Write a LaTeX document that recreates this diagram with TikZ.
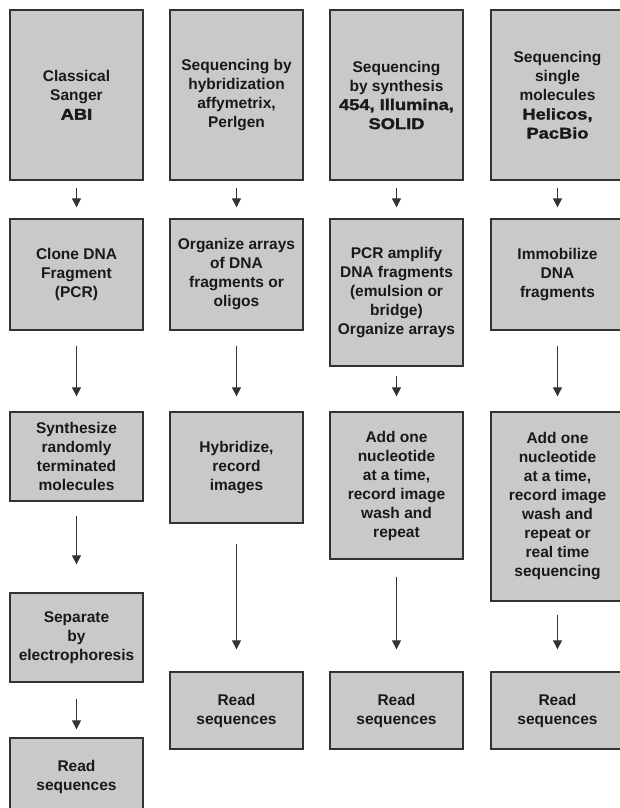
\documentclass[tikz,border=0pt]{standalone}
\usepackage{fontspec}
\setmainfont{Liberation Sans}
\newfontfamily\heavyfont{Liberation Sans Bold}[FakeBold=1.8,FakeStretch=1.18]
\usepackage{xcolor}
\usepackage{tikz}
\usetikzlibrary{arrows.meta}

\definecolor{boxgray}{HTML}{C9C9C9}
\definecolor{edgegray}{HTML}{333333}

\begin{document}
\begin{tikzpicture}[x=1pt,y=-1pt,
    stage/.style={draw=edgegray, line width=1.3pt, fill=boxgray, minimum width=133pt,
      align=center, inner sep=2pt, text=black!90, font=\bfseries\fontsize{15.5}{19}\selectfont},
    flow/.style={draw=edgegray, line width=1pt, -{Triangle[length=9pt,width=9pt]}}]
  \useasboundingbox[fill=white] (0,0) rectangle (620,808);
  \clip (0,0) rectangle (620,808);

  % Classical Sanger
  \node[stage, minimum height=170pt] (s1) at (76.5,95) {Classical\\Sanger\\{\heavyfont ABI}};
  \node[stage, minimum height=111pt] (s2) at (76.5,274.5) {Clone DNA\\Fragment\\(PCR)};
  \node[stage, minimum height=89pt] (s3) at (76.5,456.5) {Synthesize\\randomly\\terminated\\molecules};
  \node[stage, minimum height=89pt] (s4) at (76.5,637.5) {Separate\\by\\electrophoresis};
  \node[stage, minimum height=77pt] (s5) at (76.5,776.5) {Read\\sequences};

  % Hybridization
  \node[stage, minimum height=170pt] (h1) at (236.5,95) {Sequencing by\\hybridization\\affymetrix,\\Perlgen};
  \node[stage, minimum height=111pt] (h2) at (236.5,274.5) {Organize arrays\\of DNA\\fragments or\\oligos};
  \node[stage, minimum height=111pt] (h3) at (236.5,467.5) {Hybridize,\\record\\images};
  \node[stage, minimum height=77pt] (h4) at (236.5,710.5) {Read\\sequences};

  % Synthesis
  \node[stage, minimum height=170pt] (y1) at (396.5,95) {Sequencing\\by synthesis\\{\heavyfont 454, Illumina,}\\{\heavyfont SOLID}};
  \node[stage, minimum height=147pt] (y2) at (396.5,292.5) {PCR amplify\\DNA fragments\\(emulsion or\\bridge)\\Organize arrays};
  \node[stage, minimum height=147pt] (y3) at (396.5,485.5) {Add one\\nucleotide\\at a time,\\record image\\wash and\\repeat};
  \node[stage, minimum height=77pt] (y4) at (396.5,710.5) {Read\\sequences};

  % Single molecules
  \node[stage, minimum height=170pt] (m1) at (557.5,95) {Sequencing\\single\\molecules\\{\heavyfont Helicos,}\\{\heavyfont PacBio}};
  \node[stage, minimum height=111pt] (m2) at (557.5,274.5) {Immobilize\\DNA\\fragments};
  \node[stage, minimum height=189pt] (m3) at (557.5,506.5) {Add one\\nucleotide\\at a time,\\record image\\wash and\\repeat or\\real time\\sequencing};
  \node[stage, minimum height=77pt] (m4) at (557.5,710.5) {Read\\sequences};

  % Arrows
  \foreach \a/\b/\s/\e in {s1/s2/7/11, s2/s3/15/15, s3/s4/14/28, s4/s5/16/8,
      h1/h2/7/11, h2/h3/15/15, h3/h4/20/22,
      y1/y2/7/11, y2/y3/9/15, y3/y4/17/22,
      m1/m2/7/11, m2/m3/15/15, m3/m4/13/22}
    \draw[flow, shorten <=\s pt, shorten >=\e pt] (\a) -- (\b);
\end{tikzpicture}
\end{document}
